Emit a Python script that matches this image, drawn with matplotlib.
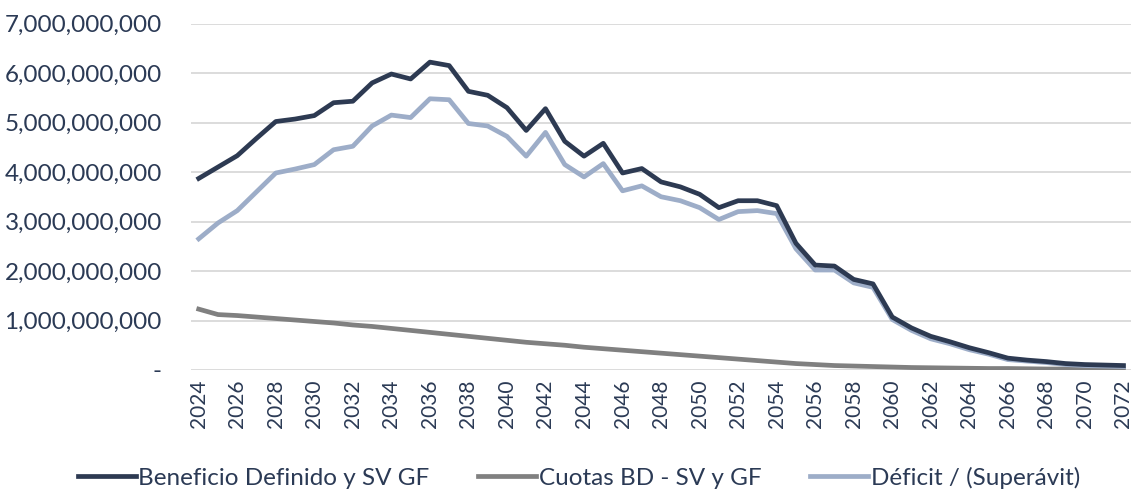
import numpy as np
import matplotlib.pyplot as plt
from matplotlib.ticker import FuncFormatter

# ====== DATA ======
years = list(range(2024, 2073))

beneficio = [3.87, 4.10, 4.33, 4.68, 5.02, 5.07, 5.14, 5.40, 5.43, 5.80,
             5.98, 5.88, 6.22, 6.15, 5.63, 5.55, 5.30, 4.84, 5.28, 4.62,
             4.32, 4.58, 3.98, 4.07, 3.80, 3.70, 3.55, 3.28, 3.42, 3.42,
             3.32, 2.56, 2.12, 2.10, 1.83, 1.74, 1.07, 0.85, 0.68, 0.57,
             0.45, 0.35, 0.24, 0.20, 0.17, 0.13, 0.11, 0.10, 0.09]

cuotas = [1.23, 1.12, 1.10, 1.07, 1.04, 1.01, 0.98, 0.95, 0.91, 0.88,
          0.84, 0.80, 0.76, 0.72, 0.68, 0.64, 0.60, 0.56, 0.53, 0.50,
          0.46, 0.43, 0.40, 0.37, 0.34, 0.31, 0.28, 0.25, 0.22, 0.19,
          0.16, 0.13, 0.11, 0.09, 0.08, 0.07, 0.06, 0.05, 0.045, 0.04,
          0.035, 0.03, 0.03, 0.025, 0.02, 0.02, 0.02, 0.015, 0.015]

deficit = [2.65, 2.97, 3.22, 3.60, 3.98, 4.06, 4.15, 4.45, 4.52, 4.93,
           5.15, 5.10, 5.48, 5.46, 4.98, 4.93, 4.72, 4.32, 4.80, 4.15,
           3.90, 4.17, 3.62, 3.72, 3.50, 3.42, 3.28, 3.04, 3.20, 3.22,
           3.16, 2.45, 2.02, 2.02, 1.76, 1.67, 1.02, 0.80, 0.63, 0.53,
           0.41, 0.32, 0.21, 0.18, 0.15, 0.11, 0.09, 0.08, 0.07]

labels = ["Beneficio Definido y SV GF", "Cuotas BD - SV y GF", "Déficit / (Superávit)"]
# ==================

TXT = "#2B3A55"
plt.rcParams['font.family'] = ['Lato', 'DejaVu Sans']

fig = plt.figure(figsize=(11.35, 4.9), dpi=100)
ax = fig.add_axes([0.1683, 0.2449, 0.8283, 0.7071])

ax.plot(years, np.array(beneficio) * 1e9, color="#2D3A52", lw=3.4, label=labels[0], zorder=3)
ax.plot(years, np.array(cuotas) * 1e9, color="#808080", lw=3.4, label=labels[1], zorder=2)
ax.plot(years, np.array(deficit) * 1e9, color="#9DADC8", lw=3.4, label=labels[2], zorder=2.5)

ax.set_xlim(2023.6, 2072.4)
ax.set_ylim(0, 7e9)
ax.set_yticks(np.arange(0, 7.01e9, 1e9))
ax.yaxis.set_major_formatter(FuncFormatter(lambda v, p: "-" if v == 0 else f"{v:,.0f}"))
ax.set_xticks(years[::2])
ax.tick_params(axis='x', labelrotation=90, labelsize=15, colors=TXT, length=0, pad=7)
ax.tick_params(axis='y', labelsize=17.5, colors=TXT, length=0, pad=21)

ax.grid(axis='y', color="#D9D9D9", lw=1.3)
ax.set_axisbelow(True)
for s in ax.spines.values():
    s.set_visible(False)

leg = fig.legend(loc='center', bbox_to_anchor=(0.51, 0.025), ncol=3, frameon=False,
                 fontsize=17.5, handlelength=2.4, handletextpad=0.1, columnspacing=2.0)
for t in leg.get_texts():
    t.set_color(TXT)

fig.savefig("out.png", dpi=100)
